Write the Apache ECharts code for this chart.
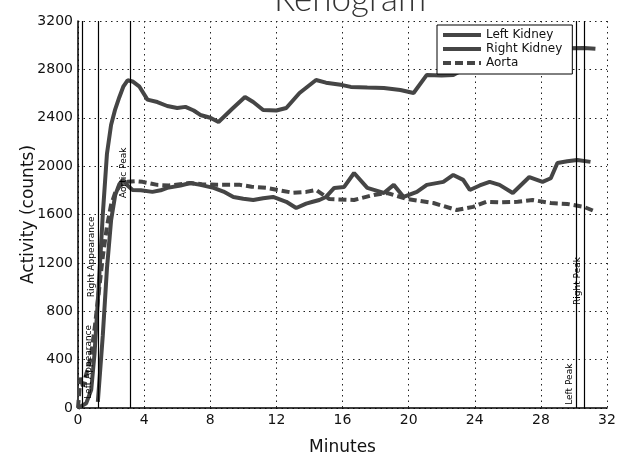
<!DOCTYPE html>
<html>
<head>
<meta charset="utf-8">
<script src="https://cdn.jsdelivr.net/npm/echarts@6/dist/echarts.min.js"></script>
<style>
  html, body { margin: 0; padding: 0; background: #fff; }
  #chart { width: 622px; height: 461px; }
</style>
</head>
<body>
<div id="chart"></div>
<script>
// minutes / counts
const leftT = [0, 0.5, 0.8, 1.0, 1.25, 1.5, 1.75, 2.0, 2.25, 2.5, 2.75, 3.0, 3.3, 3.7, 4.2, 4.8, 5.4, 6.0, 6.5, 7.0, 7.4, 8.0, 8.5, 9.3, 10.1, 10.6, 11.2, 12.0, 12.6, 13.4, 14.4, 15.0, 16.0, 16.5, 17.5, 18.5, 19.5, 20.3, 21.1, 22.0, 22.7, 24, 26, 28, 29.5, 30.6, 31.3]
const leftV = [0, 40, 150, 450, 1000, 1600, 2100, 2340, 2470, 2570, 2660, 2710, 2700, 2660, 2550, 2530, 2497, 2480, 2490, 2460, 2423, 2400, 2365, 2470, 2572, 2530, 2464, 2460, 2481, 2605, 2712, 2690, 2670, 2655, 2650, 2646, 2630, 2605, 2754, 2750, 2754, 2850, 2920, 2960, 2975, 2977, 2970]

const rightT = [1.2, 1.5, 1.75, 2.0, 2.25, 2.5, 2.7, 3.0, 3.3, 3.8, 4.5, 5.0, 5.4, 6.2, 6.8, 7.4, 8.2, 8.8, 9.4, 10.0, 10.6, 11.2, 11.8, 12.6, 13.2, 13.8, 14.2, 14.6, 15.0, 15.5, 16.1, 16.7, 17.5, 18.0, 18.5, 19.1, 19.7, 20.5, 21.1, 22.1, 22.7, 23.3, 23.7, 24.3, 24.9, 25.5, 26.3, 27.3, 28.1, 28.6, 29.0, 29.6, 30.2, 31.0]
const rightV = [50, 600, 1150, 1550, 1760, 1850, 1886, 1840, 1803, 1800, 1787, 1800, 1820, 1840, 1860, 1845, 1820, 1790, 1745, 1730, 1720, 1735, 1745, 1705, 1654, 1690, 1705, 1720, 1745, 1820, 1828, 1943, 1820, 1800, 1778, 1845, 1745, 1787, 1845, 1870, 1927, 1886, 1803, 1840, 1870, 1845, 1778, 1910, 1870, 1900, 2026, 2040, 2051, 2035]

const aortaT = [0, 0.15, 0.3, 0.5, 0.75, 1.0, 1.25, 1.5, 1.75, 2.0, 2.25, 2.5, 2.75, 3.0, 3.5, 3.9, 4.8, 5.5, 6.8, 7.5, 8.4, 9.8, 10.5, 11.4, 12.2, 13.0, 13.8, 14.4, 15.2, 16.7, 17.9, 18.7, 19.9, 21.5, 22.9, 23.9, 24.7, 25.5, 26.6, 27.5, 28.6, 29.6, 30.6, 31.2]
const aortaV = [0, 250, 180, 280, 400, 650, 950, 1250, 1500, 1680, 1780, 1830, 1860, 1870, 1875, 1870, 1845, 1840, 1860, 1850, 1845, 1845, 1830, 1820, 1800, 1780, 1787, 1803, 1728, 1720, 1762, 1778, 1728, 1695, 1637, 1663, 1705, 1700, 1705, 1720, 1695, 1687, 1663, 1630]

// event markers: time, label, label span (counts)
const markerT = [0.25, 1.2, 3.15, 30.15, 30.6]
const markerNames = ['Left Appearance', 'Right Appearance', 'Aortic Peak', 'Left Peak', 'Right Peak']
const markerFrom = [60, 900, 1720, 10, 835]
const markerTo = [900, 1700, 2320, 440, 1300]
const markerSide = ['insideStartBottom', 'insideStartTop', 'insideStartTop', 'insideStartTop', 'insideStartTop']

const xTicks = [0, 4, 8, 12, 16, 20, 24, 28, 32]

const pairs = (t, v) => t.map((x, i) => [x, v[i]])

const font = 'DejaVu Sans'
const lineColor = '#454545'

let markData = []
markerT.forEach((t, i) => {
  markData.push([{ coord: [t, 0] }, { coord: [t, 3200] }])
  markData.push([
    {
      coord: [t, markerFrom[i]],
      lineStyle: { color: 'rgba(0,0,0,0)' },
      label: { show: true, position: markerSide[i], formatter: markerNames[i] }
    },
    { coord: [t, markerTo[i]] }
  ])
})

const chart = echarts.init(document.getElementById('chart'))
const option = {
  animation: false,
  title: {
    text: 'Renogram',
    left: 345,
    textAlign: 'center',
    top: -23,
    textStyle: { fontFamily: 'Lato', fontWeight: 300, fontSize: 35, color: '#333' }
  },
  legend: {
    data: ['Left Kidney', 'Right Kidney', 'Aorta'],
    orient: 'vertical',
    left: 437,
    top: 25,
    itemWidth: 38,
    itemHeight: 6,
    itemGap: 2,
    padding: [4, 10, 5, 4],
    backgroundColor: '#fff',
    borderColor: '#000',
    borderWidth: 1,
    borderRadius: 0,
    itemStyle: { opacity: 0 },
    lineStyle: { width: 4 },
    textStyle: { fontFamily: font, fontSize: 12, color: '#111' }
  },
  grid: { left: 78, right: 15, top: 21, bottom: 53 },
  xAxis: {
    type: 'value',
    min: 0,
    max: 32,
    interval: 4,
    name: 'Minutes',
    nameLocation: 'middle',
    nameGap: 31,
    nameMoveOverlap: false,
    nameTextStyle: { fontFamily: font, fontSize: 17, color: '#111' },
    axisLine: { lineStyle: { color: '#000', width: 1.5 } },
    axisTick: { show: false },
    axisLabel: {
      fontFamily: font, fontSize: 14, color: '#111', margin: 5,
      formatter: (v) => xTicks.indexOf(v) >= 0 ? String(v) : ''
    },
    splitLine: { show: true, lineStyle: { color: '#222', type: [1.5, 4], width: 1 } }
  },
  yAxis: {
    type: 'value',
    min: 0,
    max: 3200,
    interval: 400,
    name: 'Activity (counts)',
    nameLocation: 'middle',
    nameGap: 41,
    nameMoveOverlap: false,
    nameTextStyle: { fontFamily: font, fontSize: 17, color: '#111' },
    axisLine: { show: true, lineStyle: { color: '#000', width: 1.5 } },
    axisTick: { show: false },
    axisLabel: { fontFamily: font, fontSize: 14, color: '#111', margin: 5, formatter: (v) => String(v) },
    splitLine: { show: true, lineStyle: { color: '#222', type: [1.5, 4], width: 1 } }
  },
  series: [
    {
      name: 'Left Kidney',
      type: 'line',
      symbol: 'none',
      z: 3,
      color: lineColor,
      lineStyle: { color: lineColor, width: 4 },
      data: pairs(leftT, leftV)
    },
    {
      name: 'Right Kidney',
      type: 'line',
      symbol: 'none',
      z: 3,
      color: lineColor,
      lineStyle: { color: lineColor, width: 4 },
      data: pairs(rightT, rightV)
    },
    {
      name: 'Aorta',
      type: 'line',
      symbol: 'none',
      z: 3,
      color: lineColor,
      lineStyle: { color: lineColor, width: 4, type: [8, 4] },
      data: pairs(aortaT, aortaV)
    },
    {
      name: 'markers',
      type: 'line',
      data: [],
      z: 2,
      markLine: {
        silent: true,
        symbol: ['none', 'none'],
        animation: false,
        lineStyle: { color: '#000', width: 1.2, type: 'solid' },
        label: { show: false, fontFamily: font, fontSize: 9, color: '#000', distance: 2 },
        data: markData
      }
    }
  ]
}
chart.setOption(option)
</script>
</body>
</html>
